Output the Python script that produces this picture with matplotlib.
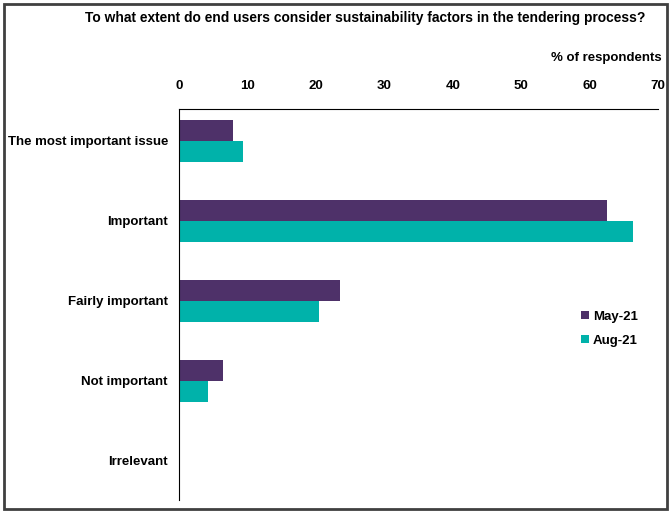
import matplotlib.pyplot as plt
import numpy as np
from matplotlib.patches import Rectangle

categories = ["The most important issue", "Important", "Fairly important", "Not important", "Irrelevant"]
may21 = [7.9, 62.5, 23.5, 6.5, 0.0]
aug21 = [9.4, 66.3, 20.4, 4.3, 0.0]
series_names = ["May-21", "Aug-21"]
colors = ["#4E3169", "#00B2AA"]
xticks = [0, 10, 20, 30, 40, 50, 60, 70]

FONT = ["Liberation Sans", "DejaVu Sans"]
plt.rcParams['font.family'] = FONT
FS = 9.5

W, H = 672, 514
fig = plt.figure(figsize=(W/100, H/100), dpi=100)
ax = fig.add_axes([179/W, 1-500/H, (658-179)/W, (500-109)/H])

y = np.arange(len(categories))
h = 0.26
ax.barh(y - h/2, may21, height=h, color=colors[0], label=series_names[0])
ax.barh(y + h/2, aug21, height=h, color=colors[1], label=series_names[1])

ax.set_xlim(0, 70)
ax.set_ylim(4.49, -0.4)
ax.xaxis.tick_top()
ax.set_xticks(xticks)
ax.set_xticklabels([str(t) for t in xticks], fontsize=FS, fontweight='bold')
ax.tick_params(axis='x', length=0, pad=12.5)
ax.set_yticks(y)
ax.set_yticklabels(categories, fontsize=FS, fontweight='bold')
ax.tick_params(axis='y', length=0, pad=8)
for s in ['right', 'bottom']:
    ax.spines[s].set_visible(False)
ax.spines['top'].set_linewidth(0.8)
ax.spines['left'].set_linewidth(0.8)

fig.text(365/W, 1-18/H, "To what extent do end users consider sustainability factors in the tendering process?",
         ha='center', va='center', fontsize=9.9, fontweight='bold')
fig.text(662/W, 1-58/H, "% of respondents", ha='right', va='center', fontsize=FS, fontweight='bold')

leg = ax.legend(loc='upper left', bbox_to_anchor=(569/W, 1-299/H), bbox_transform=fig.transFigure,
                frameon=False, prop={'weight': 'bold', 'size': FS, 'family': FONT},
                handlelength=0.6, handleheight=0.6, handletextpad=0.3, labelspacing=0.9)

fig.patches.append(Rectangle((4/W, 1-509/H), (667-4)/W, (509-4)/H, transform=fig.transFigure,
                             fill=False, edgecolor='#404040', linewidth=2))

fig.savefig("out.png", dpi=100)
